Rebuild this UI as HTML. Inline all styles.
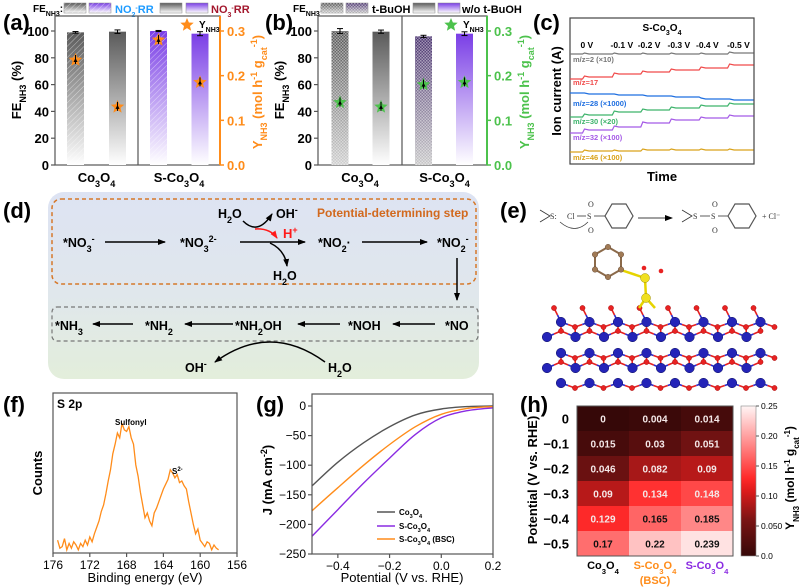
<!DOCTYPE html>
<html><head><meta charset="utf-8">
<style>
html,body{margin:0;padding:0;background:#fff;}
svg{display:block;font-family:"Liberation Sans",Arial,sans-serif;font-weight:bold;}
</style></head>
<body>
<svg id="fig" width="800" height="587" viewBox="0 0 800 587" xmlns="http://www.w3.org/2000/svg">
<defs>
  <linearGradient id="gGray" x1="0" y1="0" x2="0" y2="1"><stop offset="0" stop-color="#5a5a5a"/><stop offset="1" stop-color="#ffffff"/></linearGradient>
  <linearGradient id="gPurp" x1="0" y1="0" x2="0" y2="1"><stop offset="0" stop-color="#7a3ee6"/><stop offset="1" stop-color="#ffffff"/></linearGradient>
  <linearGradient id="gGrayDark" x1="0" y1="0" x2="0" y2="1"><stop offset="0" stop-color="#555"/><stop offset="1" stop-color="#cfcfcf"/></linearGradient>
  <linearGradient id="gPurpDark" x1="0" y1="0" x2="0" y2="1"><stop offset="0" stop-color="#4b3470"/><stop offset="1" stop-color="#c8c8c8"/></linearGradient>
  <linearGradient id="gBg" x1="0" y1="0" x2="0" y2="1"><stop offset="0" stop-color="#dde3f3"/><stop offset="0.55" stop-color="#e0e7ec"/><stop offset="1" stop-color="#e3eedb"/></linearGradient>
  <linearGradient id="gCbar" x1="0" y1="1" x2="0" y2="0">
    <stop offset="0" stop-color="#360808"/><stop offset="0.24" stop-color="#7a1414"/><stop offset="0.44" stop-color="#e01c1c"/><stop offset="0.52" stop-color="#ff2a2a"/><stop offset="1" stop-color="#fff5f5"/>
  </linearGradient>
  <pattern id="pHatch" width="4" height="4" patternUnits="userSpaceOnUse" patternTransform="rotate(45)"><line x1="0" y1="0" x2="0" y2="4" stroke="#ffffff" stroke-opacity="0.55" stroke-width="1"/></pattern>
  <pattern id="pCheck" width="3" height="3" patternUnits="userSpaceOnUse"><rect width="1.5" height="1.5" fill="#ffffff" fill-opacity="0.45"/><rect x="1.5" y="1.5" width="1.5" height="1.5" fill="#ffffff" fill-opacity="0.45"/></pattern>
  <marker id="arr" markerWidth="8" markerHeight="8" refX="7" refY="4" orient="auto" markerUnits="userSpaceOnUse"><path d="M0,1 L8,4 L0,7 Z" fill="#000"/></marker>
  <marker id="arrR" markerWidth="8" markerHeight="8" refX="7" refY="4" orient="auto" markerUnits="userSpaceOnUse"><path d="M0,1 L8,4 L0,7 Z" fill="#ff1a1a"/></marker>
</defs>

<!-- ===== panel labels ===== -->
<text x="3" y="30" font-size="22">(a)</text>
<text x="265" y="30" font-size="22">(b)</text>
<text x="533" y="30" font-size="22">(c)</text>
<text x="3" y="218" font-size="22">(d)</text>
<text x="500" y="218" font-size="22">(e)</text>
<text x="3" y="412" font-size="22">(f)</text>
<text x="256" y="412" font-size="22">(g)</text>
<text x="520" y="412" font-size="22">(h)</text>

<!-- ===== legends a / b ===== -->
<g font-size="10">
  <text x="33" y="12">FE<tspan font-size="7" baseline-shift="sub">NH3</tspan>:</text>
  <rect x="64" y="3" width="22" height="10" fill="url(#gGray)" stroke="#888" stroke-width="0.5"/><rect x="64" y="3" width="22" height="10" fill="url(#pHatch)"/>
  <rect x="89" y="3" width="22" height="10" fill="url(#gPurp)" stroke="#888" stroke-width="0.5"/><rect x="89" y="3" width="22" height="10" fill="url(#pHatch)"/>
  <text x="115" y="13" font-size="11" fill="#1e9bff">NO<tspan font-size="7" baseline-shift="sub">2</tspan><tspan font-size="7" baseline-shift="super">-</tspan>RR</text>
  <rect x="160" y="3" width="22" height="10" fill="url(#gGray)" stroke="#888" stroke-width="0.5"/>
  <rect x="186" y="3" width="22" height="10" fill="url(#gPurp)" stroke="#888" stroke-width="0.5"/>
  <text x="211" y="13" font-size="11" fill="#a3172d">NO<tspan font-size="7" baseline-shift="sub">3</tspan><tspan font-size="7" baseline-shift="super">-</tspan>RR</text>
</g>
<g font-size="10">
  <text x="293" y="12">FE<tspan font-size="7" baseline-shift="sub">NH3</tspan>:</text>
  <rect x="321" y="3" width="22" height="10" fill="url(#gGrayDark)" stroke="#888" stroke-width="0.5"/><rect x="321" y="3" width="22" height="10" fill="url(#pCheck)"/>
  <rect x="346" y="3" width="22" height="10" fill="url(#gPurpDark)" stroke="#888" stroke-width="0.5"/><rect x="346" y="3" width="22" height="10" fill="url(#pCheck)"/>
  <text x="372" y="13" font-size="11">t-BuOH</text>
  <rect x="413" y="3" width="22" height="10" fill="url(#gGray)" stroke="#888" stroke-width="0.5"/>
  <rect x="438" y="3" width="22" height="10" fill="url(#gPurp)" stroke="#888" stroke-width="0.5"/>
  <text x="462" y="13" font-size="11">w/o t-BuOH</text>
</g>

<g id="pa"></g>
<g id="pb"></g>
<g id="pc"></g>

<!-- ===== panel d: mechanism ===== -->
<g font-size="12.5">
  <rect x="48" y="192" width="431" height="187" rx="16" fill="url(#gBg)"/>
  <rect x="52" y="199" width="424" height="85" rx="9" fill="none" stroke="#d6782a" stroke-width="1.5" stroke-dasharray="4,3"/>
  <rect x="52" y="307" width="426" height="34" rx="5" fill="none" stroke="#777" stroke-width="1.2" stroke-dasharray="4,3"/>
  <text x="317" y="217" font-size="12" fill="#d2691e">Potential-determining step</text>
  <text x="63" y="247">*NO<tspan font-size="9" baseline-shift="sub">3</tspan><tspan font-size="9" baseline-shift="super">-</tspan></text>
  <line x1="105" y1="242" x2="165" y2="242" stroke="#000" stroke-width="1.5" marker-end="url(#arr)"/>
  <text x="180" y="247">*NO<tspan font-size="9" baseline-shift="sub">3</tspan><tspan font-size="9" baseline-shift="super">2-</tspan></text>
  <line x1="240" y1="242" x2="305" y2="242" stroke="#000" stroke-width="1.5" marker-end="url(#arr)"/>
  <text x="318" y="247">*NO<tspan font-size="9" baseline-shift="sub">2</tspan>·</text>
  <line x1="362" y1="242" x2="427" y2="242" stroke="#000" stroke-width="1.5" marker-end="url(#arr)"/>
  <text x="437" y="247">*NO<tspan font-size="9" baseline-shift="sub">2</tspan><tspan font-size="9" baseline-shift="super">-</tspan></text>
  <line x1="457" y1="258" x2="457" y2="300" stroke="#000" stroke-width="1.5" marker-end="url(#arr)"/>
  <text x="218" y="218">H<tspan font-size="9" baseline-shift="sub">2</tspan>O</text>
  <text x="276" y="218">OH<tspan font-size="9" baseline-shift="super">-</tspan></text>
  <path d="M243,221 Q258,236 272,214" fill="none" stroke="#000" stroke-width="1.5" marker-end="url(#arr)"/>
  <path d="M255,229 Q270,228 277,238" fill="none" stroke="#ff1a1a" stroke-width="1.5" marker-end="url(#arrR)"/>
  <text x="283" y="238" fill="#ff1a1a" font-size="13">H<tspan font-size="9" baseline-shift="super">+</tspan></text>
  <path d="M270,243 Q285,250 287,266" fill="none" stroke="#000" stroke-width="1.5" marker-end="url(#arr)"/>
  <text x="273" y="280">H<tspan font-size="9" baseline-shift="sub">2</tspan>O</text>
  <text x="55" y="330">*NH<tspan font-size="9" baseline-shift="sub">3</tspan></text>
  <line x1="133" y1="324" x2="93" y2="324" stroke="#000" stroke-width="1.5" marker-end="url(#arr)"/>
  <text x="145" y="330">*NH<tspan font-size="9" baseline-shift="sub">2</tspan></text>
  <line x1="233" y1="324" x2="185" y2="324" stroke="#000" stroke-width="1.5" marker-end="url(#arr)"/>
  <text x="235" y="330">*NH<tspan font-size="9" baseline-shift="sub">2</tspan>OH</text>
  <line x1="340" y1="324" x2="298" y2="324" stroke="#000" stroke-width="1.5" marker-end="url(#arr)"/>
  <text x="348" y="330">*NOH</text>
  <line x1="435" y1="324" x2="393" y2="324" stroke="#000" stroke-width="1.5" marker-end="url(#arr)"/>
  <text x="445" y="330">*NO</text>
  <path d="M325,362 Q270,322 215,362" fill="none" stroke="#000" stroke-width="1.5" marker-end="url(#arr)"/>
  <text x="185" y="372">OH<tspan font-size="9" baseline-shift="super">-</tspan></text>
  <text x="328" y="372">H<tspan font-size="9" baseline-shift="sub">2</tspan>O</text>
</g>

<!-- ===== panel e: structure ===== -->
<g>
  <g font-family="Liberation Serif,serif" font-weight="normal" font-size="8" fill="#333" stroke="none">
    <path d="M540,210 L550,216 L540,222" fill="none" stroke="#333" stroke-width="0.8"/>
    <text x="550" y="219">S:</text>
    <text x="567" y="219">Cl</text>
    <text x="587" y="219">S</text>
    <text x="588" y="207">O</text><text x="588" y="233">O</text>
    <line x1="577" y1="216" x2="586" y2="216" stroke="#333" stroke-width="0.8"/>
    <polygon points="605,216 612,204 626,204 633,216 626,228 612,228" fill="none" stroke="#555" stroke-width="1.2"/>
    <line x1="594" y1="216" x2="605" y2="216" stroke="#333" stroke-width="0.8"/>
    <path d="M560,222 Q575,235 588,222" fill="none" stroke="#333" stroke-width="0.7"/>
    <line x1="638" y1="218" x2="672" y2="218" stroke="#000" stroke-width="0.8" marker-end="url(#arr)"/>
    <path d="M682,210 L692,216 L682,222" fill="none" stroke="#333" stroke-width="0.8"/>
    <text x="693" y="219">S</text>
    <line x1="700" y1="216" x2="710" y2="216" stroke="#333" stroke-width="0.8"/>
    <text x="711" y="219">S</text>
    <text x="712" y="207">O</text><text x="712" y="233">O</text>
    <line x1="718" y1="216" x2="728" y2="216" stroke="#333" stroke-width="0.8"/>
    <polygon points="728,216 735,204 749,204 756,216 749,228 735,228" fill="none" stroke="#555" stroke-width="1.2"/>
    <text x="762" y="219">+ Cl⁻</text>
  </g>
  <g id="crystal"></g>
</g>

<g id="pf"></g>
<g id="pg"></g>
<g id="ph"></g>
</svg>

<script>
// ---------- data ----------
const aCats = ['Co3O4', 'S-Co3O4'];
const aFE = [99, 99.5, 100, 98];
const aFEerr = [0.6, 1.3, 0.4, 1.5];
const aYield = [0.235, 0.13, 0.28, 0.185];
const bCats = ['Co3O4', 'S-Co3O4'];
const bFE = [100, 99.5, 96, 98];
const bFEerr = [1.8, 1.2, 0.8, 1.4];
const bYield = [0.14, 0.13, 0.18, 0.185];
const feTicks = [0, 20, 40, 60, 80, 100];
const yTicks = [0.0, 0.1, 0.2, 0.3];

const cTime = [0, 0.5, 1.65, 2.75, 3.85, 5.0, 6.1, 7.1];
const cVoltLabels = ['0 V', '-0.1 V', '-0.2 V', '-0.3 V', '-0.4 V', '-0.5 V'];
const cVoltTimes = [0.65, 2.0, 3.05, 4.2, 5.3, 6.5];
const cM2 = [110, 110, 110, 110, 110, 110, 111];
const cM17 = [85, 87, 90, 92, 94, 96, 99];
const cM28 = [71, 70, 69, 68, 67, 65, 64];
const cM30 = [47, 49, 52, 54, 56, 58, 60];
const cM32 = [31, 34, 37, 41, 44, 46, 48];
const cM46 = [12, 13, 13, 14, 14, 14, 14];

const fEnergyStart = 175.5;
const fEnergyStep = 0.25;
const fCounts = [8,3,4,9,2,6,3,7,5,2,6,4,8,5,10,7,12,16,20,26,30,37,45,52,62,68,75,72,81,77,76,79,72,68,55,48,38,30,22,25,20,17,25,28,32,36,40,43,46,52,50,47,49,44,45,42,40,32,25,18,12,15,8,6,4,7,6,2,5,3,2];
const fTicks = [176, 172, 168, 164, 160, 156];

const gPotential = [-0.5, -0.4, -0.3, -0.2, -0.1, 0.0, 0.1, 0.2];
const gCo3O4 = [-135, -95, -62, -35, -15, -5, -1, 0];
const gSCo3O4 = [-220, -175, -130, -88, -48, -20, -8, -3];
const gBSC = [-177, -138, -100, -65, -35, -14, -4, -1];
const gXTicks = [-0.4, -0.2, 0.0, 0.2];
const gYTicks = [0, -50, -100, -150, -200, -250];

const hRows = ['0', '−0.1', '−0.2', '−0.3', '−0.4', '−0.5'];
const hCols = ['Co3O4', 'S-Co3O4 (BSC)', 'S-Co3O4'];
const hVals = [
  [0, 0.004, 0.014],
  [0.015, 0.03, 0.051],
  [0.046, 0.082, 0.09],
  [0.09, 0.134, 0.148],
  [0.129, 0.165, 0.185],
  [0.17, 0.22, 0.239]
];
const hTicks = ['0.0', '0.050', '0.10', '0.15', '0.20', '0.25'];

// ---------- helpers ----------
const NS = 'http://www.w3.org/2000/svg';
function mk(tag, parent, attrs) {
  const e = document.createElementNS(NS, tag);
  for (const k in attrs) e.setAttribute(k, attrs[k]);
  parent.appendChild(e);
  return e;
}
function starPts(cx, cy, R) {
  const p = [];
  for (let i = 0; i < 10; i++) {
    const r = i % 2 ? R * 0.45 : R;
    const a = -Math.PI / 2 + i * Math.PI / 5;
    p.push((cx + r * Math.cos(a)).toFixed(1) + ',' + (cy + r * Math.sin(a)).toFixed(1));
  }
  return p.join(' ');
}
function chemLabel(g, x, y, txt, size, fill, anchor) {
  const t = mk('text', g, {x: x, y: y, 'font-size': size, fill: fill || '#000', 'text-anchor': anchor || 'middle'});
  const parts = txt.match(/[A-Za-z\-\(\) ]+|\d+/g);
  parts.forEach(p => {
    const s = mk('tspan', t, {});
    if (/^\d+$/.test(p)) { s.setAttribute('font-size', size * 0.7); s.setAttribute('baseline-shift', 'sub'); }
    s.textContent = p;
  });
  return t;
}

// ---------- panels a & b ----------
function barPanel(gid, o) {
  const g = document.getElementById(gid);
  const x0 = o.x0, x1 = o.x1, yT = 16, yB = 165;
  const yFE = v => yB - v * 1.34;
  const yY = v => yB - v / 0.3 * 134;
  mk('rect', g, {x: x0, y: yT, width: x1 - x0, height: yB - yT, fill: 'none', stroke: '#555', 'stroke-width': 1.2});
  mk('line', g, {x1: o.sep, y1: yT, x2: o.sep, y2: yB, stroke: '#555', 'stroke-width': 1.2});
  o.fe.forEach((v, i) => {
    const cx = o.centers[i], w = 17;
    const r = mk('rect', g, {x: cx - w / 2, y: yFE(v), width: w, height: yB - yFE(v), fill: o.fills[i]});
    
    
    if (o.pats[i]) mk('rect', g, {x: cx - w / 2, y: yFE(v), width: w, height: yB - yFE(v), fill: o.pats[i]});
    mk('line', g, {x1: cx, y1: yFE(v + o.err[i]), x2: cx, y2: yFE(v - o.err[i]), stroke: '#000', 'stroke-width': 1});
    mk('line', g, {x1: cx - 3, y1: yFE(v + o.err[i]), x2: cx + 3, y2: yFE(v + o.err[i]), stroke: '#000', 'stroke-width': 1});
    mk('line', g, {x1: cx - 3, y1: yFE(v - o.err[i]), x2: cx + 3, y2: yFE(v - o.err[i]), stroke: '#000', 'stroke-width': 1});
    const sy = yY(o.yld[i]);
    const st = mk('polygon', g, {points: starPts(cx, sy, 7), fill: o.starCol});
    
    
    mk('line', g, {x1: cx, y1: sy - 5, x2: cx, y2: sy + 4, stroke: '#000', 'stroke-width': 1});
    mk('polygon', g, {points: (cx - 2) + ',' + (sy + 2) + ' ' + (cx + 2) + ',' + (sy + 2) + ' ' + cx + ',' + (sy - 2), fill: '#000'});
  });
  feTicks.forEach(t => {
    mk('line', g, {x1: x0 - 4, y1: yFE(t), x2: x0, y2: yFE(t), stroke: '#555', 'stroke-width': 1.2});
    const tx = mk('text', g, {x: x0 - 6, y: yFE(t) + 5, 'font-size': 13, 'text-anchor': 'end'});
    tx.textContent = t;
  });
  mk('line', g, {x1: x1, y1: yT, x2: x1, y2: yB, stroke: o.starCol, 'stroke-width': 2});
  yTicks.forEach(t => {
    mk('line', g, {x1: x1, y1: yY(t), x2: x1 + 4, y2: yY(t), stroke: o.starCol, 'stroke-width': 1.5});
    const tx = mk('text', g, {x: x1 + 7, y: yY(t) + 5, 'font-size': 13, fill: o.starCol});
    tx.textContent = t.toFixed(1);
  });
  o.cats.forEach((c, i) => chemLabel(g, (i ? (o.sep + x1) / 2 : (x0 + o.sep) / 2), 182, c, 13));
  const yl = mk('text', g, {x: 0, y: 0, 'font-size': 13, 'text-anchor': 'middle', transform: 'translate(' + (x0 - 34) + ',90) rotate(-90)'});
  
  
  yl.innerHTML = 'FE<tspan font-size="9" baseline-shift="sub">NH3</tspan> (%)';
  const yr = mk('text', g, {x: 0, y: 0, 'font-size': 13, fill: o.starCol, 'text-anchor': 'middle', transform: 'translate(' + (x1 + 42) + ',92) rotate(-90)'});
  
  
  yr.innerHTML = 'Y<tspan font-size="9" baseline-shift="sub">NH3</tspan> (mol h<tspan font-size="9" baseline-shift="super">-1</tspan> g<tspan font-size="9" baseline-shift="sub">cat</tspan><tspan font-size="9" baseline-shift="super">-1</tspan>)';
  const ls = mk('polygon', g, {points: starPts(o.legX, 25, 7), fill: o.starCol});
  
  
  const lt = mk('text', g, {x: o.legX + 12, y: 28, 'font-size': 10});
  lt.innerHTML = 'Y<tspan font-size="7" baseline-shift="sub">NH3</tspan>';
}
barPanel('pa', {x0: 55, x1: 220, sep: 138, centers: [75.5, 117.5, 158.5, 200], fe: aFE, err: aFEerr, yld: aYield,
  fills: ['url(#gGray)', 'url(#gGray)', 'url(#gPurp)', 'url(#gPurp)'], pats: ['url(#pHatch)', null, 'url(#pHatch)', null],
  starCol: '#ff8c1a', cats: aCats, legX: 187});
barPanel('pb', {x0: 318, x1: 487, sep: 402, centers: [340, 381, 423.5, 464.5], fe: bFE, err: bFEerr, yld: bYield,
  fills: ['url(#gGrayDark)', 'url(#gGray)', 'url(#gPurpDark)', 'url(#gPurp)'], pats: ['url(#pCheck)', null, 'url(#pCheck)', null],
  starCol: '#4cc24c', cats: bCats, legX: 451});

// ---------- panel c ----------
(function () {
  const g = document.getElementById('pc');
  const X0 = 570, X1 = 754, YT = 18, YB = 164;
  const xT = t => X0 + (t - cTime[0]) / (cTime[cTime.length - 1] - cTime[0]) * (X1 - X0);
  const yV = v => YB - v * 1.0;
  mk('rect', g, {x: X0, y: YT, width: X1 - X0, height: YB - YT, fill: 'none', stroke: '#444', 'stroke-width': 1.2});
  chemLabel(g, 662, 31, 'S-Co3O4', 10);
  cVoltLabels.forEach((l, i) => {
    const t = mk('text', g, {x: xT(cVoltTimes[i]), y: 48, 'font-size': 8.5, 'text-anchor': 'middle'});
    t.textContent = l;
  });
  const series = [
    [cM2, '#777', 'm/z=2 (×10)', 62, 'trace-mz2'],
    [cM17, '#f04a4a', 'm/z=17', 85, 'trace-mz17'],
    [cM28, '#1f6fe0', 'm/z=28 (×1000)', 106, 'trace-mz28'],
    [cM30, '#3db36b', 'm/z=30 (×20)', 124, 'trace-mz30'],
    [cM32, '#a55ae6', 'm/z=32 (×100)', 140, 'trace-mz32'],
    [cM46, '#d9a21a', 'm/z=46 (×100)', 160, 'trace-mz46']
  ];
  series.forEach(s => {
    const vals = s[0];
    let d = '';
    for (let i = 0; i < vals.length; i++) {
      const xa = xT(cTime[i]), xb = xT(cTime[i + 1]);
      const y = yV(vals[i]);
      if (i === 0) d += 'M' + xa.toFixed(1) + ',' + y.toFixed(1);
      else d += ' L' + (xa + 1.5).toFixed(1) + ',' + (y - 1).toFixed(1) + ' L' + (xa + 6).toFixed(1) + ',' + y.toFixed(1);
      d += ' L' + (xb - 0.5).toFixed(1) + ',' + y.toFixed(1);
    }
    const p = mk('path', g, {d: d, fill: 'none', stroke: s[1], 'stroke-width': 1.2});
    
    
    const t = mk('text', g, {x: 573, y: s[3], 'font-size': 7.5, fill: s[1]});
    t.textContent = s[2];
  });
  const yl = mk('text', g, {x: 0, y: 0, 'font-size': 13, 'text-anchor': 'middle', transform: 'translate(561,91) rotate(-90)'});
  yl.textContent = 'Ion current (A)';
  const xl = mk('text', g, {x: 662, y: 181, 'font-size': 13, 'text-anchor': 'middle'});
  xl.textContent = 'Time';
})();

// ---------- panel e crystal (decorative structure) ----------
(function () {
  const g = document.getElementById('crystal');
  const rowsY = [308, 322, 337, 353, 368, 383];
  const redPts = [], bluePts = [];
  for (let r = 0; r < rowsY.length; r++) {
    for (let k = 0; k < 9; k++) {
      const bx = 547 + (r % 2 ? 14 : 0) + k * 28.5;
      if (bx > 773) continue;
      if (r === 0) redPts.push([bx + 7, rowsY[r]]);
      else if (r % 2) { bluePts.push([bx, rowsY[r]]); redPts.push([bx + 14, rowsY[r] + 5]); }
      else { bluePts.push([bx, rowsY[r]]); redPts.push([bx + 14, rowsY[r] - 6]); }
    }
  }
  redPts.forEach(p => bluePts.forEach(b => {
    const dx = p[0] - b[0], dy = p[1] - b[1], dd = Math.sqrt(dx * dx + dy * dy);
    if (dd < 20 && dd > 3) {
      mk('line', g, {x1: b[0], y1: b[1], x2: (b[0] + p[0]) / 2, y2: (b[1] + p[1]) / 2, stroke: '#2a2ad0', 'stroke-width': 1.6});
      mk('line', g, {x1: (b[0] + p[0]) / 2, y1: (b[1] + p[1]) / 2, x2: p[0], y2: p[1], stroke: '#e52020', 'stroke-width': 1.6});
    }
  }));
  redPts.forEach(p => mk('circle', g, {cx: p[0], cy: p[1], r: 2.6, fill: '#e82222', stroke: '#900', 'stroke-width': 0.4}));
  bluePts.forEach(p => mk('circle', g, {cx: p[0], cy: p[1], r: 4.8, fill: '#2424b8', stroke: '#101060', 'stroke-width': 0.5}));
  const ring = [];
  for (let i = 0; i < 6; i++) { const a = Math.PI / 6 + i * Math.PI / 3; ring.push([608 + 15 * Math.cos(a), 262 + 15 * Math.sin(a)]); }
  ring.forEach((p, i) => { const q = ring[(i + 1) % 6]; mk('line', g, {x1: p[0], y1: p[1], x2: q[0], y2: q[1], stroke: '#8b6a4a', 'stroke-width': 2}); });
  mk('line', g, {x1: 621, y1: 270, x2: 645, y2: 278, stroke: '#e6d400', 'stroke-width': 2.5});
  mk('line', g, {x1: 645, y1: 278, x2: 646, y2: 298, stroke: '#e6d400', 'stroke-width': 2.5});
  mk('line', g, {x1: 646, y1: 298, x2: 639, y2: 308, stroke: '#e6d400', 'stroke-width': 2.5});
  mk('line', g, {x1: 646, y1: 298, x2: 655, y2: 308, stroke: '#e6d400', 'stroke-width': 2.5});
  ring.forEach(p => mk('circle', g, {cx: p[0], cy: p[1], r: 2.8, fill: '#a07a55', stroke: '#5a4030', 'stroke-width': 0.4}));
  mk('circle', g, {cx: 645, cy: 278, r: 4.5, fill: '#f0e020', stroke: '#a09000', 'stroke-width': 0.5});
  mk('circle', g, {cx: 646, cy: 298, r: 4.5, fill: '#f0e020', stroke: '#a09000', 'stroke-width': 0.5});
  mk('circle', g, {cx: 644, cy: 268, r: 2.3, fill: '#e82222'});
  mk('circle', g, {cx: 661, cy: 271, r: 2.3, fill: '#e82222'});
})();

// ---------- panel f ----------
(function () {
  const g = document.getElementById('pf');
  const X0 = 53, X1 = 237, YT = 393, YB = 553;
  const xE = e => X0 + (176 - e) / 20 * (X1 - X0);
  const yC = c => YB - c * 1.6;
  let d = '';
  fCounts.forEach((c, i) => { const e = fEnergyStart - i * fEnergyStep; d += (i ? 'L' : 'M') + xE(e).toFixed(1) + ',' + yC(c).toFixed(1); });
  const p = mk('path', g, {d: d, fill: 'none', stroke: '#ff8c1a', 'stroke-width': 1.3});
  
  
  mk('rect', g, {x: X0, y: YT, width: X1 - X0, height: YB - YT, fill: 'none', stroke: '#555', 'stroke-width': 1.2});
  fTicks.forEach(t => {
    mk('line', g, {x1: xE(t), y1: YB, x2: xE(t), y2: YB + 4, stroke: '#555', 'stroke-width': 1.2});
    const tx = mk('text', g, {x: xE(t), y: YB + 16, 'font-size': 12, 'font-weight': 'normal', 'text-anchor': 'middle'});
    tx.textContent = t;
  });
  const xl = mk('text', g, {x: 145, y: 582, 'font-size': 13, 'font-weight': 'normal', 'text-anchor': 'middle'});
  xl.textContent = 'Binding energy (eV)';
  const yl = mk('text', g, {x: 0, y: 0, 'font-size': 13, 'text-anchor': 'middle', transform: 'translate(42,473) rotate(-90)'});
  yl.textContent = 'Counts';
  const s = mk('text', g, {x: 57, y: 408, 'font-size': 12});
  s.textContent = 'S 2p';
  const sl = mk('text', g, {x: 115, y: 425, 'font-size': 8});
  sl.textContent = 'Sulfonyl';
  const s2 = mk('text', g, {x: 172, y: 474, 'font-size': 8});
  s2.innerHTML = 'S<tspan font-size="6" baseline-shift="super">2-</tspan>';
})();

// ---------- panel g ----------
(function () {
  const g = document.getElementById('pg');
  const X0 = 312, X1 = 493, YT = 394, YB = 554;
  const xP = v => X0 + (v + 0.5) / 0.7 * (X1 - X0);
  const yMap = j => 406 + (-j) * (148 / 250);
  function smooth(xs, ys) {
    const P = xs.map((x, i) => [xP(x), yMap(ys[i])]);
    let d = 'M' + P[0][0].toFixed(1) + ',' + P[0][1].toFixed(1);
    for (let i = 0; i < P.length - 1; i++) {
      const p0 = P[Math.max(i - 1, 0)], p1 = P[i], p2 = P[i + 1], p3 = P[Math.min(i + 2, P.length - 1)];
      const c1 = [p1[0] + (p2[0] - p0[0]) / 6, p1[1] + (p2[1] - p0[1]) / 6];
      const c2 = [p2[0] - (p3[0] - p1[0]) / 6, p2[1] - (p3[1] - p1[1]) / 6];
      d += ' C' + c1.map(v => v.toFixed(1)).join(',') + ' ' + c2.map(v => v.toFixed(1)).join(',') + ' ' + p2.map(v => v.toFixed(1)).join(',');
    }
    return d;
  }
  const lines = [[gCo3O4, '#555555', 'lsv-co3o4'], [gBSC, '#ff8c1a', 'lsv-s-co3o4-bsc'], [gSCo3O4, '#8a2be2', 'lsv-s-co3o4']];
  lines.forEach(l => {
    const p = mk('path', g, {d: smooth(gPotential, l[0]), fill: 'none', stroke: l[1], 'stroke-width': 1.4});
    
    
  });
  mk('rect', g, {x: X0, y: YT, width: X1 - X0, height: YB - YT, fill: 'none', stroke: '#555', 'stroke-width': 1.2});
  gXTicks.forEach(t => {
    mk('line', g, {x1: xP(t), y1: YB, x2: xP(t), y2: YB + 4, stroke: '#555', 'stroke-width': 1.2});
    const tx = mk('text', g, {x: xP(t), y: YB + 16, 'font-size': 12, 'font-weight': 'normal', 'text-anchor': 'middle'});
    tx.textContent = (t < 0 ? '−' : '') + Math.abs(t).toFixed(1);
  });
  gYTicks.forEach(t => {
    mk('line', g, {x1: X0 - 4, y1: yMap(t), x2: X0, y2: yMap(t), stroke: '#555', 'stroke-width': 1.2});
    const tx = mk('text', g, {x: X0 - 6, y: yMap(t) + 4, 'font-size': 12, 'font-weight': 'normal', 'text-anchor': 'end'});
    tx.textContent = (t < 0 ? '−' : '') + Math.abs(t);
  });
  const xl = mk('text', g, {x: 402, y: 582, 'font-size': 13, 'font-weight': 'normal', 'text-anchor': 'middle'});
  xl.textContent = 'Potential (V vs. RHE)';
  const yl = mk('text', g, {x: 0, y: 0, 'font-size': 13, 'text-anchor': 'middle', transform: 'translate(272,480) rotate(-90)'});
  yl.innerHTML = 'J (mA cm<tspan font-size="9" baseline-shift="super">-2</tspan>)';
  const leg = [['#555555', 'Co3O4', 515], ['#8a2be2', 'S-Co3O4', 529], ['#ff8c1a', 'S-Co3O4 (BSC)', 542]];
  leg.forEach(l => {
    mk('line', g, {x1: 377, y1: l[2] - 3, x2: 395, y2: l[2] - 3, stroke: l[0], 'stroke-width': 1.6});
    chemLabel(g, 399, l[2], l[1], 8, '#000', 'start');
  });
})();

// ---------- panel h ----------
(function () {
  const g = document.getElementById('ph');
  const X0 = 577, Y0 = 406, CW = 52, RH = 25;
  const stops = [[0, [54, 8, 8]], [0.06, [122, 20, 20]], [0.11, [224, 28, 28]], [0.13, [255, 42, 42]], [0.25, [255, 245, 245]]];
  function col(v) {
    for (let i = 0; i < stops.length - 1; i++) {
      if (v <= stops[i + 1][0]) {
        const t = (v - stops[i][0]) / (stops[i + 1][0] - stops[i][0]);
        const c = stops[i][1].map((a, k) => Math.round(a + (stops[i + 1][1][k] - a) * t));
        return 'rgb(' + c.join(',') + ')';
      }
    }
    return 'rgb(255,245,245)';
  }
  hVals.forEach((row, r) => row.forEach((v, c) => {
    const cell = mk('rect', g, {x: X0 + c * CW, y: Y0 + r * RH, width: CW + 0.5, height: RH + 0.5, fill: col(v)});
    
    
    const t = mk('text', g, {x: X0 + c * CW + CW / 2, y: Y0 + r * RH + RH / 2 + 4, 'font-size': 10, 'text-anchor': 'middle', fill: v > 0.16 ? '#111' : '#f4e8e8'});
    t.textContent = v;
  }));
  mk('rect', g, {x: X0, y: Y0, width: CW * 3, height: RH * 6, fill: 'none', stroke: '#555', 'stroke-width': 1});
  hRows.forEach((l, r) => {
    const t = mk('text', g, {x: X0 - 8, y: Y0 + r * RH + RH / 2 + 5, 'font-size': 13, 'text-anchor': 'end'});
    t.textContent = l;
  });
  chemLabel(g, X0 + CW / 2, 569, 'Co3O4', 11, '#000');
  chemLabel(g, X0 + CW * 1.5, 569, 'S-Co3O4', 11, '#ff8c1a');
  const bsc = mk('text', g, {x: X0 + CW * 1.5, y: 584, 'font-size': 11, fill: '#ff8c1a', 'text-anchor': 'middle'});
  bsc.textContent = '(BSC)';
  chemLabel(g, X0 + CW * 2.5, 569, 'S-Co3O4', 11, '#8a2be2');
  const yl = mk('text', g, {x: 0, y: 0, 'font-size': 13, 'text-anchor': 'middle', transform: 'translate(537,480) rotate(-90)'});
  yl.textContent = 'Potential (V vs. RHE)';
  const cb = mk('rect', g, {x: 741, y: 406, width: 15, height: 150, fill: 'url(#gCbar)', stroke: '#888', 'stroke-width': 0.6});
  
  
  hTicks.forEach((l, i) => {
    const y = 556 - i * 30;
    mk('line', g, {x1: 756, y1: y, x2: 759, y2: y, stroke: '#555', 'stroke-width': 1});
    const t = mk('text', g, {x: 761, y: y + 3, 'font-size': 8.5, 'font-weight': 'normal'});
    t.textContent = l;
  });
  const ct = mk('text', g, {x: 0, y: 0, 'font-size': 12, 'text-anchor': 'middle', transform: 'translate(794,478) rotate(-90)'});
  ct.innerHTML = 'Y<tspan font-size="8" baseline-shift="sub">NH3</tspan> (mol h<tspan font-size="8" baseline-shift="super">-1</tspan> g<tspan font-size="8" baseline-shift="sub">cat</tspan><tspan font-size="8" baseline-shift="super">-1</tspan>)';
})();
</script>
</body></html>
